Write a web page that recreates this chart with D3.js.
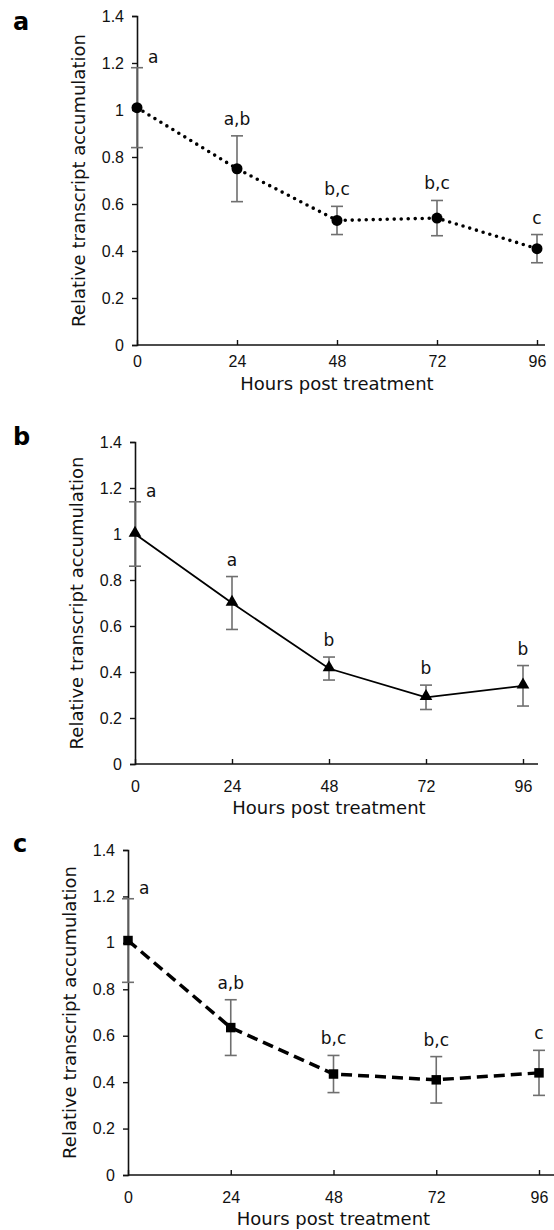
<!DOCTYPE html>
<html>
<head>
<meta charset="utf-8">
<script src="https://cdn.jsdelivr.net/npm/d3@7"></script>
<style>
  body { margin: 0; background: #fff; }
  svg { display: block; font-family: "DejaVu Sans", "Liberation Sans", Arial, sans-serif; }
</style>
</head>
<body>
<div id="chart"></div>
<script>
// hours after treatment
const hours = [0, 24, 48, 72, 96];
const yTicks = [0, 0.2, 0.4, 0.6, 0.8, 1, 1.2, 1.4];

// panel a (dotted, circles)
const meanA = [1.01, 0.75, 0.53, 0.54, 0.41];
const errA = [0.17, 0.14, 0.06, 0.075, 0.06];
const letA = ["a", "a,b", "b,c", "b,c", "c"];

// panel b (solid, triangles)
const meanB = [1.0, 0.70, 0.415, 0.29, 0.34];
const errB = [0.14, 0.115, 0.05, 0.053, 0.088];
const letB = ["a", "a", "b", "b", "b"];

// panel c (dashed, squares)
const meanC = [1.01, 0.635, 0.435, 0.41, 0.44];
const errC = [0.18, 0.12, 0.08, 0.1, 0.097];
const letC = ["a", "a,b", "b,c", "b,c", "c"];

const W = 554, H = 1230;

const svg = d3.select("#chart").append("svg")
    .attr("width", W)
    .attr("height", H);

// pixel frame of each panel
const panels = [
    { tag: "a", mean: meanA, err: errA, letters: letA, marker: "circle", dash: "0,7", cap: "round", lw: 3.6,
      x0: 137, x1: 537, xEnd: 545, y0: 345, y1: 16, tagY: 30, tickGap: 11, titleBase: 45 },
    { tag: "b", mean: meanB, err: errB, letters: letB, marker: "triangle", dash: null, cap: "butt", lw: 1.8,
      x0: 135, x1: 523, xEnd: 538, y0: 764, y1: 442, tagY: 445, tickGap: 17, titleBase: 50 },
    { tag: "c", mean: meanC, err: errC, letters: letC, marker: "square", dash: "11,6", cap: "butt", lw: 3.5,
      x0: 128, x1: 539, xEnd: 554, y0: 1175, y1: 850, tagY: 852, tickGap: 17, titleBase: 50 }
];

const fmt = d => d3.format("~g")(+d.toFixed(1));

panels.forEach(p => {
    const x = d3.scaleLinear().domain([0, 96]).range([p.x0, p.x1]);
    const y = d3.scaleLinear().domain([0, 1.4]).range([p.y0, p.y1]);
    const g = svg.append("g");

    // panel letter
    g.append("text")
        .attr("x", 13)
        .attr("y", p.tagY)
        .attr("font-size", 24)
        .attr("font-weight", "bold")
        .text(p.tag);

    // y axis
    const yAxis = g.append("g")
        .attr("transform", "translate(" + p.x0 + ",0)")
        .call(d3.axisLeft(y).tickValues(yTicks).tickFormat(fmt).tickSize(5).tickPadding(8));
    yAxis.selectAll("text").attr("font-size", 16).attr("fill", "#111").attr("font-family", null);

    // x axis, ticks pointing up
    const xAxis = g.append("g")
        .attr("transform", "translate(0," + p.y0 + ")")
        .call(d3.axisBottom(x).tickValues(hours).tickSizeInner(-5).tickSizeOuter(0).tickPadding(p.tickGap));
    xAxis.selectAll("text").attr("font-size", 16).attr("fill", "#111").attr("font-family", null);
    xAxis.select(".domain").attr("d", "M" + p.x0 + ",0H" + p.xEnd);
    g.selectAll(".domain").attr("stroke", "#111").attr("stroke-width", 1.6);
    g.selectAll(".tick line").attr("stroke", "#111").attr("stroke-width", 1.4);

    // axis titles
    g.append("text")
        .attr("x", x(48))
        .attr("y", p.y0 + p.titleBase)
        .attr("text-anchor", "middle")
        .attr("font-size", 18)
        .attr("fill", "#111")
        .text("Hours post treatment");

    g.append("text")
        .attr("transform", "translate(" + (p.x0 - 52) + "," + ((p.y0 + p.y1) / 2) + ") rotate(-90)")
        .attr("text-anchor", "middle")
        .attr("font-size", 18)
        .attr("fill", "#111")
        .text("Relative transcript accumulation");

    const pts = hours.map((h, i) => ({ h, m: p.mean[i], e: p.err[i], l: p.letters[i] }));

    // error bars
    const eb = g.append("g").attr("stroke", "#6f6f6f").attr("stroke-width", 1.6);
    eb.selectAll(".v").data(pts).enter().append("line")
        .attr("x1", d => x(d.h)).attr("x2", d => x(d.h))
        .attr("y1", d => y(d.m - d.e)).attr("y2", d => y(d.m + d.e));
    eb.selectAll(".t").data(pts).enter().append("line")
        .attr("x1", d => x(d.h) - 6).attr("x2", d => x(d.h) + 6)
        .attr("y1", d => y(d.m + d.e)).attr("y2", d => y(d.m + d.e));
    eb.selectAll(".b").data(pts).enter().append("line")
        .attr("x1", d => x(d.h) - 6).attr("x2", d => x(d.h) + 6)
        .attr("y1", d => y(d.m - d.e)).attr("y2", d => y(d.m - d.e));

    // the line
    const line = d3.line().x(d => x(d.h)).y(d => y(d.m));
    g.append("path")
        .datum(pts)
        .attr("d", line)
        .attr("fill", "none")
        .attr("stroke", "#000")
        .attr("stroke-width", p.lw)
        .attr("stroke-linecap", p.cap)
        .attr("stroke-dasharray", p.dash);

    // markers
    const sym = p.marker === "circle" ? d3.symbolCircle
        : p.marker === "triangle" ? d3.symbolTriangle : d3.symbolSquare;
    const size = p.marker === "circle" ? 95 : p.marker === "triangle" ? 70 : 90;
    g.selectAll(".pt").data(pts).enter().append("path")
        .attr("transform", d => "translate(" + x(d.h) + "," + (y(d.m) + (p.marker === "triangle" ? -1 : 0)) + ")")
        .attr("d", d3.symbol().type(sym).size(size))
        .attr("fill", "#000");

    // significance letters
    g.selectAll(".let").data(pts).enter().append("text")
        .attr("x", d => d.h === 0 ? x(d.h) + 11 : x(d.h))
        .attr("y", d => y(d.m + d.e) - (d.h === 0 ? 5 : 11))
        .attr("text-anchor", d => d.h === 0 ? "start" : "middle")
        .attr("font-size", 17)
        .attr("fill", "#111")
        .text(d => d.l);
});
</script>
</body>
</html>
